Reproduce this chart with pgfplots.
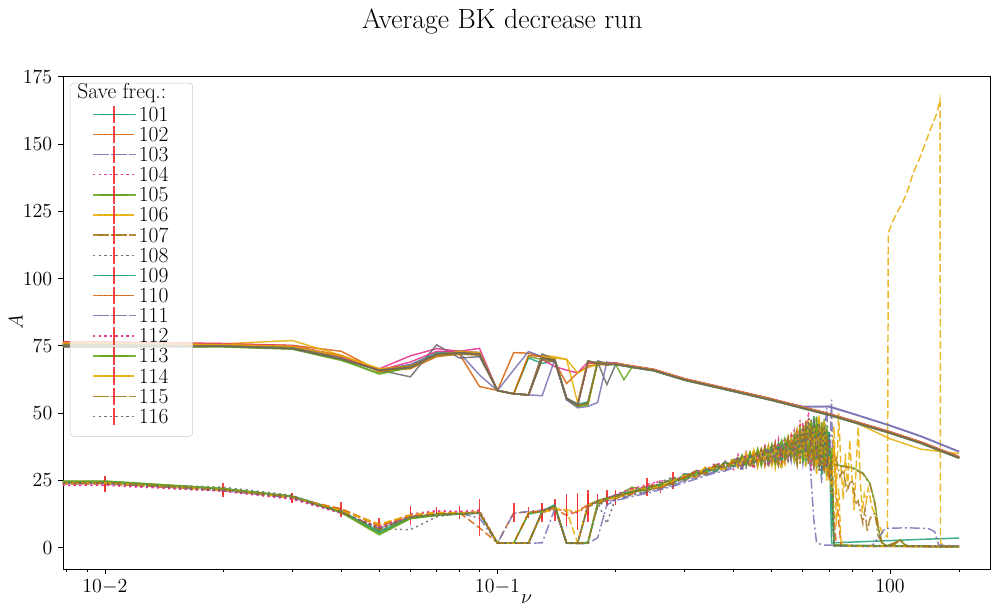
\documentclass[border=0pt,12pt]{standalone}
\usepackage{pgfplots}
\usepackage{pgfplotstable}
\pgfplotsset{compat=1.18}

\definecolor{d1}{HTML}{1B9E77}
\definecolor{d2}{HTML}{D95F02}
\definecolor{d3}{HTML}{7570B3}
\definecolor{d4}{HTML}{E7298A}
\definecolor{d5}{HTML}{66A61E}
\definecolor{d6}{HTML}{E6AB02}
\definecolor{d7}{HTML}{A6761D}
\definecolor{d8}{HTML}{666666}
\definecolor{errred}{HTML}{F03030}

\pgfplotsset{
  base/.style={line width=1.05pt, draw opacity=0.85},
  pS/.style={solid},
  pD/.style={dash pattern=on 5.5pt off 2.4pt},
  pDD/.style={dash pattern=on 7pt off 2.2pt on 1.5pt off 2.2pt},
  pO/.style={dash pattern=on 1.5pt off 2.5pt},
  ser1/.style={base,d1,pS}, ser2/.style={base,d2,pD}, ser3/.style={base,d3,pDD}, ser4/.style={base,d4,pO},
  ser5/.style={base,d5,pS}, ser6/.style={base,d6,pD}, ser7/.style={base,d7,pDD}, ser8/.style={base,d8,pO},
  ser9/.style={base,d1,pS}, ser10/.style={base,d2,pD}, ser11/.style={base,d3,pDD}, ser12/.style={base,d4,pO},
  ser13/.style={base,d5,pS}, ser14/.style={base,d6,pD}, ser15/.style={base,d7,pDD}, ser16/.style={base,d8,pO},
  errs/.style={error bars/.cd, y dir=both, y explicit, error mark=none,
     error bar style={errred, line width=1.2pt, solid, draw opacity=0.9}},
}

% upper branch
\pgfplotstableread{
nu u1 u2 u3 u4 u5 u6 u7 u8 u9 u10 u11 u12 u13 u14 u15 u16
1e-6 76.0 77.0 76.5 78.7 75.5 77.5 76.0 75.0 76.5 77.0 76.0 78.0 75.5 77.0 75.8 75.2
0.01 75.5 76.2 75.8 76.5 74.8 76.3 75.4 74.6 75.7 76.0 75.3 76.4 74.9 76.1 75.2 74.7
0.02 75.2 75.8 75.3 75.9 74.6 75.8 75.1 74.8 75.4 75.6 75.0 75.7 74.7 75.5 75.0 74.9
0.03 74.4 75.2 74.6 75.0 73.8 77.0 74.3 74.0 74.7 75.0 74.2 75.1 73.9 74.9 74.2 74.0
0.04 70.2 73.0 70.6 71.2 69.6 71.5 70.3 70.0 70.8 71.4 70.4 71.0 69.8 71.2 70.3 70.1
0.05 66.0 65.7 66.0 66.5 65.0 66.5 66.0 66.0 66.0 65.5 66.0 66.0 64.5 66.5 66.0 66.0
0.06 67.5 66.5 68.0 71.3 67.0 67.0 67.5 63.5 68.0 67.5 68.0 69.0 67.0 67.5 67.5 67.0
0.07 72.0 71.0 71.5 74.0 71.5 71.7 71.7 75.4 72.5 72.0 72.0 73.0 72.0 71.5 71.5 72.0
0.08 72.5 72.0 72.5 73.0 72.0 72.5 72.0 70.5 73.0 72.5 72.5 73.0 72.5 73.0 72.0 72.5
0.09 72.0 59.9 64.2 74.1 72.5 72.0 71.5 71.0 72.5 72.0 72.0 72.5 72.0 72.5 72.0 72.0
0.10 58.4 58.5 58.4 58.4 58.4 58.4 58.4 58.4 58.4 58.4 58.4 58.4 58.4 58.4 58.4 58.4
0.11 57.2 72.5 66.1 57.2 57.2 57.2 57.2 57.2 57.2 57.2 57.2 57.2 57.2 57.2 57.2 57.2
0.12 70.5 72.3 72.9 56.8 71.0 56.8 56.8 56.8 56.8 71.5 56.8 56.8 56.8 56.8 56.8 56.8
0.13 68.5 71.0 71.0 70.0 70.0 71.5 70.0 72.0 70.5 71.0 56.5 71.0 70.5 71.0 70.5 70.5
0.14 69.5 69.0 69.5 67.3 69.5 71.0 69.0 70.0 70.0 69.5 70.0 69.5 70.0 70.5 70.0 69.5
0.15 55.5 61.0 55.0 66.0 55.5 70.0 55.5 55.0 55.5 55.5 55.0 55.5 55.5 70.0 55.5 55.5
0.16 53.0 65.0 52.5 65.0 53.0 65.0 53.0 53.0 53.5 53.0 52.0 53.0 52.5 54.0 53.0 53.0
0.17 69.0 67.5 54.3 69.0 69.0 67.0 53.5 69.0 54.0 68.5 52.5 69.0 53.0 69.5 53.5 69.5
0.18 68.5 68.0 69.5 68.5 68.0 68.0 69.0 69.0 69.0 68.5 54.0 68.5 69.0 68.5 69.0 68.5
0.19 68.0 68.0 68.5 68.0 68.5 68.5 68.5 60.6 68.5 68.0 69.0 68.5 68.0 68.0 68.5 68.0
0.20 68.3 68.5 68.1 68.6 68.2 68.4 68.3 68.0 68.4 68.5 68.2 68.7 68.1 68.5 68.3 68.2
0.21 67.8 67.9 67.6 68.0 62.4 67.9 67.8 67.5 67.9 68.0 67.7 68.1 67.6 68.0 67.8 67.7
0.22 67.3 67.4 67.1 67.5 67.0 67.4 67.3 67.0 67.4 67.5 67.2 67.6 67.1 67.5 67.3 67.2
0.25 66.0 66.2 65.8 66.3 65.9 66.1 66.0 65.7 66.1 66.2 65.9 66.3 65.8 66.2 66.0 65.9
0.30 62.5 62.7 62.3 62.8 62.4 62.6 62.5 62.2 62.6 62.7 62.4 62.8 62.3 62.7 62.5 62.4
0.40 58.3 58.5 58.1 58.6 58.2 58.4 58.3 58.0 58.4 58.5 58.2 58.6 58.1 58.5 58.3 58.2
0.50 55.0 55.2 54.9 55.3 54.9 55.1 55.0 54.7 55.1 55.2 54.9 55.3 54.8 55.2 55.0 54.9
0.60 52.0 52.2 52.3 52.3 51.9 52.1 52.0 51.7 52.1 52.2 52.5 52.3 51.8 52.2 52.0 51.9
0.70 49.5 49.7 52.3 49.8 49.4 49.6 49.5 49.2 49.6 49.7 52.6 49.8 49.3 49.7 49.5 49.4
0.80 47.0 47.2 49.8 47.3 46.9 47.1 47.0 46.7 47.1 47.2 50.0 47.3 46.8 47.2 47.0 46.9
1.00 42.8 43.0 45.3 43.1 42.7 40.5 42.8 42.5 42.9 43.0 45.5 43.1 42.6 43.0 42.8 42.7
1.20 39.0 39.2 41.3 39.3 38.9 36.6 39.0 38.7 39.1 39.2 41.5 39.3 38.8 39.2 39.0 38.9
1.50 33.5 33.7 35.6 33.8 33.4 35.0 33.5 33.2 33.6 33.7 35.8 33.8 33.3 33.7 33.5 33.4
}\uptab

% lower branch (with error columns for three series)
\pgfplotstableread{
nu s1 s2 s3 s4 s5 s6 s7 s8 s9 s10 s11 s12 s13 s14 s15 s16 e2 e4 e6
1e-6 24.5 23.5 24.0 22.8 24.8 24.2 24.5 23.8 24.6 23.6 23.9 23.0 24.7 24.1 24.4 23.7 0 0 0
0.01 24.5 23.8 24.0 23.2 24.8 24.2 24.4 24.0 24.6 23.7 24.0 23.3 24.7 24.1 24.3 23.9 3 2 1.5
0.02 21.8 21.5 21.2 21.0 22.0 21.6 21.7 22.5 21.9 21.4 21.3 21.1 22.0 21.5 21.6 21.4 2.5 1.5 1
0.03 19.2 18.5 18.6 18.0 19.0 18.8 19.0 19.5 19.0 18.6 18.5 18.2 19.1 18.7 18.9 18.7 2 1 1.5
0.04 13.8 14.5 13.2 12.8 13.0 14.0 13.5 13.0 13.6 14.2 13.3 13.0 13.2 13.9 13.4 13.1 2.5 1.5 1
0.05 5.5 8.5 7.0 7.8 4.8 8.8 6.5 7.0 6.0 8.0 7.2 7.5 5.2 8.6 6.8 7.2 2.5 1.5 1
0.06 11.0 12.0 11.5 12.5 10.8 12.2 11.5 6.7 11.2 11.8 11.6 12.0 10.9 12.1 11.4 11.2 3.5 2 1.5
0.07 12.0 12.8 12.5 13.8 12.0 13.2 12.5 11.5 12.4 12.6 12.4 13.5 12.2 13.0 12.5 12.3 1.5 1.5 1
0.08 12.5 13.0 12.8 13.5 12.5 13.0 12.5 12.8 12.6 12.8 12.7 13.3 12.6 13.0 12.6 12.7 2.5 2 1
0.09 12.8 7.4 11.0 14.0 13.0 13.2 13.0 13.2 12.9 13.0 12.9 13.6 13.1 13.3 13.0 13.0 3 4 1.5
0.10 1.7 1.8 1.7 1.7 1.7 1.7 1.7 1.7 1.7 1.7 1.7 1.7 1.7 1.7 1.7 1.7 0 0 0
0.11 1.7 13.0 12.8 1.7 1.7 1.7 1.7 1.7 1.7 1.7 1.7 1.7 1.7 1.7 1.7 1.7 3.5 0 0
0.12 12.5 13.2 13.5 1.8 12.8 1.7 1.7 1.7 1.7 13.0 1.7 1.7 1.7 1.7 1.7 1.7 2 0 0
0.13 13.5 13.8 14.0 13.0 13.5 13.2 13.5 13.8 13.4 13.6 1.8 13.2 13.5 13.3 13.4 13.6 3 3.5 2.5
0.14 16.0 14.5 15.5 14.5 15.5 14.0 15.0 15.5 15.8 15.0 14.5 15.0 15.4 14.8 15.2 15.6 2.5 3 4
0.15 1.8 12.0 1.7 13.5 1.8 14.0 1.8 1.6 1.7 1.8 1.7 1.7 1.8 14.0 1.7 1.7 4 5 6
0.16 1.7 13.5 1.6 13.0 1.7 13.5 1.7 1.7 1.8 1.7 1.5 1.7 1.7 1.8 1.7 1.8 7 5.5 6.5
0.17 15.5 16.0 1.7 15.5 16.0 15.0 1.8 15.0 2.0 15.8 1.6 15.5 1.8 15.8 2.0 15.5 4 6 3
0.18 17.5 17.0 15.5 17.0 17.5 17.0 16.0 17.0 16.5 17.2 3.7 17.0 16.5 17.1 16.2 17.3 3 2.5 0
0.19 18.5 18.0 17.5 18.5 18.5 18.0 18.0 9.0 18.2 18.3 16.0 18.4 18.3 18.2 18.1 18.4 2 3 0
0.20 19.0 18.2 17.5 19.6 18.8 18.5 19.3 18.7 19.4 18.9 17.5 19.8 19.0 18.6 19.2 19.5 2.5 2 2.5
0.22 20.5 21.2 19.8 21.8 22.5 20.0 20.8 19.5 21.0 20.3 19.0 22.0 20.6 21.4 20.1 20.9 1.5 0 0
0.24 22.0 21.2 20.8 23.5 21.5 22.8 21.9 20.6 22.4 23.1 20.2 22.6 21.4 22.1 23.0 21.7 2 0 3
0.26 23.5 22.4 22.0 24.8 22.9 23.6 22.5 24.4 23.2 22.1 21.6 25.0 23.8 22.7 23.3 24.1 2 0 0
0.28 25.8 24.0 23.2 23.9 24.6 25.5 24.1 26.3 23.7 25.0 22.8 24.4 25.2 24.8 23.6 25.4 0 2 2.5
0.30 25.5 27.2 25.0 27.8 26.4 25.8 26.9 24.6 27.5 26.0 24.2 26.7 25.3 27.0 26.2 25.1 0 0 0
0.32 28.0 26.5 26.2 26.0 28.6 27.4 25.9 28.9 26.8 28.2 25.5 28.4 27.7 26.3 28.0 27.1 0 0 0
0.34 27.6 29.5 27.2 30.1 28.2 29.8 28.7 27.0 29.3 27.9 26.8 29.0 28.5 30.3 27.4 28.8 0 0 0
0.36 30.2 28.6 28.4 28.0 31.0 29.0 30.5 31.2 28.3 30.7 27.9 31.5 29.6 28.8 30.0 29.1 0 0 0
0.38 29.4 31.5 29.0 32.3 29.8 31.9 28.6 30.0 31.8 29.2 28.5 30.6 31.4 29.5 30.9 32.0 0 0 0
0.40 32.5 30.2 30.6 29.0 32.8 30.5 32.0 33.5 30.1 32.4 29.8 31.0 30.4 33.2 31.6 30.0 0 0 0
0.41 30.5 33.4 31.8 34.6 30.2 32.9 29.7 31.5 33.0 30.4 31.2 33.9 32.1 29.8 32.7 34.0 0 0 0
0.42 33.8 30.9 29.5 31.2 34.0 30.8 33.5 28.4 31.7 34.3 29.6 30.5 34.4 32.6 30.0 31.4 0 0 0
0.43 31.0 34.6 32.7 35.5 31.4 33.8 30.2 34.9 30.5 32.0 33.3 35.0 30.7 35.2 33.1 29.6 0 0 0
0.44 34.5 31.8 30.9 30.4 35.6 31.2 35.1 31.0 34.2 30.6 31.0 32.2 35.3 31.5 29.7 34.8 0 0 0
0.45 32.0 35.7 33.8 36.2 30.9 36.5 29.4 33.7 31.6 35.4 34.2 29.2 32.0 36.4 33.6 31.3 0 0 0
0.46 35.6 32.3 30.7 31.5 36.8 29.9 34.8 36.0 35.3 31.1 30.6 34.9 36.3 30.2 35.9 33.0 0 0 0
0.47 31.5 36.9 35.0 34.2 32.5 34.6 31.0 30.8 32.2 36.8 35.5 31.6 30.4 36.1 31.8 36.2 0 0 0
0.48 36.7 30.2 32.4 37.8 35.2 37.2 36.5 35.1 37.0 32.5 32.0 37.5 35.8 31.4 37.3 30.9 0 0 0
0.49 32.8 35.5 36.6 30.9 37.5 31.0 29.8 38.1 31.3 35.9 37.2 30.4 33.7 38.0 32.6 35.4 0 0 0
0.50 37.9 33.1 31.2 36.0 31.8 36.3 37.9 32.0 36.4 30.6 31.5 36.8 38.4 30.5 35.0 37.7 0 0 0
0.51 33.0 38.2 37.0 39.5 35.9 29.5 33.6 37.2 33.9 38.3 36.8 33.2 31.0 36.9 38.8 31.5 0 0 0
0.52 38.5 31.6 34.8 32.5 38.8 39.0 30.4 32.8 38.9 33.4 31.2 40.2 36.5 33.3 30.8 37.9 0 0 0
0.53 31.8 37.5 39.2 37.2 32.3 33.6 38.6 39.9 31.0 37.8 38.5 32.0 40.0 29.0 36.5 33.7 0 0 0
0.54 39.6 35.0 32.6 41.0 37.5 30.8 35.2 34.3 40.3 32.2 33.4 38.6 33.2 39.5 33.1 39.4 0 0 0
0.55 34.2 40.5 37.9 33.8 41.2 38.4 31.8 40.1 35.5 40.6 37.6 34.3 38.9 33.6 40.7 32.4 0 0 0
0.56 40.8 32.4 41.0 39.7 33.5 42.0 39.9 33.8 38.2 34.0 32.1 41.5 34.5 40.9 35.4 38.6 0 0 0
0.57 33.5 39.0 34.7 43.6 39.4 34.1 35.8 41.7 32.4 41.2 40.4 35.3 42.1 31.7 41.3 34.6 0 0 0
0.58 41.7 44.5 31.9 36.2 42.8 40.5 30.5 35.5 42.9 33.3 34.9 43.0 33.0 44.6 32.2 42.3 0 0 0
0.59 35.0 33.8 42.6 47.5 34.6 31.2 41.6 42.8 35.6 44.8 42.5 34.0 44.9 34.8 43.0 31.5 0 0 0
0.60 43.8 38.9 33.4 33.0 44.5 45.2 33.7 32.6 41.5 35.0 31.2 46.5 31.5 42.2 36.7 45.0 0 0 0
0.61 32.6 45.0 46.8 40.0 36.5 30.0 42.5 45.0 30.8 47.2 40.0 33.5 45.7 30.5 44.0 33.9 0 0 0
0.62 45.5 31.0 35.2 50.5 43.0 46.8 31.4 35.3 46.3 33.6 37.5 44.5 34.6 47.9 31.6 48.2 0 0 0
0.63 34.0 47.3 43.5 28.0 30.9 35.9 44.6 47.7 33.4 40.6 25.0 30.2 47.2 33.4 45.2 35.0 0 0 0
0.64 47.5 36.5 28.5 42.6 46.4 48.8 33.2 30.4 48.9 30.0 10.0 47.8 30.5 45.0 29.4 47.0 0 0 0
0.65 30.2 48.6 45.6 35.5 32.2 27.5 47.8 46.6 29.5 45.5 2.0 31.4 48.8 27.6 42.8 33.0 0 0 0
0.66 44.0 33.0 35.9 46.0 47.6 49.5 28.9 28.6 45.8 32.4 1.5 46.2 33.0 48.3 30.5 46.1 0 0 0
0.67 32.5 45.6 24.0 30.0 30.5 30.4 43.0 44.0 27.0 46.8 1.2 29.0 46.5 30.0 44.5 28.8 0 0 0
0.68 46.8 28.7 40.5 42.5 48.0 47.0 32.0 30.0 44.2 29.0 1.0 43.6 31.0 46.5 27.2 45.4 0 0 0
0.69 29.0 44.0 52.0 27.5 31.0 26.0 40.5 42.2 26.5 44.1 1.0 28.0 45.5 25.0 42.0 30.0 0 0 0
0.70 43.0 25.0 30.0 40.0 32.0 38.0 30.0 27.0 40.0 26.0 1.0 40.0 30.0 34.0 29.0 42.0 0 0 0
}\lowtab

\begin{document}
\begin{tikzpicture}
\useasboundingbox (-45.36pt,-26.64pt) rectangle (669.6pt,409.68pt);
\begin{axis}[
  at={(0,0)}, anchor=south west,
  scale only axis, width=667.44pt, height=354.96pt,
  xmode=log, xmin=0.00782, xmax=1.798, ymin=-7.9, ymax=175.3,
  xtick={0.01,0.1,1}, xticklabels={$10{-}2$,$10{-}1$,$100$},
  minor xtick={0.008,0.009,0.02,0.03,0.04,0.05,0.06,0.07,0.08,0.09,0.2,0.3,0.4,0.5,0.6,0.7,0.8,0.9,1.5},
  ytick={0,25,50,75,100,125,150,175},
  tick align=outside, tick pos=left,
  major tick length=3.5pt, minor tick length=2pt,
  every tick/.style={black, line width=0.6pt},
  axis line style={line width=0.6pt},
  tick label style={font=\fontsize{15.5}{18}\selectfont},
  label style={font=\fontsize{15.5}{18}\selectfont},
  xlabel={$\nu$}, ylabel={$A$},
  xlabel style={yshift=8pt},
  ylabel style={yshift=-8pt},
  title={Average BK decrease run},
  title style={at={(0.474,1)}, anchor=base, yshift=28pt, font=\fontsize{20}{24}\selectfont},
  clip=true,
  legend image code/.code={%
    \path (-4.2pt,0pt) -- (26.6pt,0pt);
    \draw[#1] (0pt,0pt) -- (21.6pt,0pt);
    \draw[overlay, errred, line width=1.2pt, solid, draw opacity=0.9] (10.8pt,-6.3pt) -- (10.8pt,6.3pt);
  },
  legend style={
    at={(0,1)}, anchor=north west, xshift=5pt, yshift=-5pt,
    draw=black!20, fill=white, fill opacity=0.8, draw opacity=1, text opacity=1,
    rounded corners=2.5pt, font=\fontsize{15.5}{18}\selectfont,
    row sep=1.5pt, inner xsep=16pt, inner ysep=7.9pt,
    nodes={inner sep=1.5pt, text height=10pt, text depth=0pt},
  },
  legend cell align=left,
]
\addlegendimage{empty legend}
\addlegendentry[text height=3.5pt]{}

% lower branch
\addplot[ser1] table[x=nu,y=s1]{\lowtab}; \addlegendentry{101}
\addplot[ser2,errs] table[x=nu,y=s2,y error=e2]{\lowtab}; \addlegendentry{102}
\addplot[ser3] table[x=nu,y=s3]{\lowtab}; \addlegendentry{103}
\addplot[ser4,errs] table[x=nu,y=s4,y error=e4]{\lowtab}; \addlegendentry{104}
\addplot[ser5] table[x=nu,y=s5]{\lowtab}; \addlegendentry{105}
\addplot[ser6,errs] table[x=nu,y=s6,y error=e6]{\lowtab}; \addlegendentry{106}
\addplot[ser7] table[x=nu,y=s7]{\lowtab}; \addlegendentry{107}
\addplot[ser8] table[x=nu,y=s8]{\lowtab}; \addlegendentry{108}
\addplot[ser9] table[x=nu,y=s9]{\lowtab}; \addlegendentry{109}
\addplot[ser10] table[x=nu,y=s10]{\lowtab}; \addlegendentry{110}
\addplot[ser11] table[x=nu,y=s11]{\lowtab}; \addlegendentry{111}
\addplot[ser12] table[x=nu,y=s12]{\lowtab}; \addlegendentry{112}
\addplot[ser13] table[x=nu,y=s13]{\lowtab}; \addlegendentry{113}
\addplot[ser14] table[x=nu,y=s14]{\lowtab}; \addlegendentry{114}
\addplot[ser15] table[x=nu,y=s15]{\lowtab}; \addlegendentry{115}
\addplot[ser16] table[x=nu,y=s16]{\lowtab}; \addlegendentry{116}

% lower branch tails
\addplot[ser1,forget plot] coordinates {(0.70,43.0) (0.71,1.8) (0.9,2.4) (1.2,3.1) (1.5,3.6)};
\addplot[ser2,forget plot] coordinates {(0.70,25.0) (0.71,30) (0.72,38) (0.73,20) (0.74,10) (0.75,1.0) (0.8,0.6) (1.0,0.5) (1.5,0.4)};
\addplot[ser3,forget plot] coordinates {(0.70,30.0) (0.71,55) (0.72,1.0) (0.8,0.5) (1.0,0.5) (1.5,0.4)};
\addplot[ser4,forget plot] coordinates {(0.70,40.0) (0.71,22) (0.72,0.8) (0.85,0.5) (1.5,0.4)};
\addplot[ser5,forget plot] coordinates {(0.70,32.0) (0.71,33) (0.72,31) (0.733,30.8) (0.77,30.3) (0.805,29.7) (0.853,27.8) (0.889,24) (0.916,16.7) (0.932,7.8) (0.954,1.9) (0.98,0.8) (1.03,1.5) (1.06,3) (1.09,1.2) (1.12,0.5) (1.5,0.4)};
\addplot[ser6,forget plot] coordinates {(0.70,38.0) (0.71,28) (0.72,45) (0.73,20) (0.74,50) (0.75,30) (0.76,18) (0.77,35) (0.78,22) (0.79,40) (0.80,26) (0.81,14) (0.82,30) (0.83,45) (0.84,25) (0.85,13) (0.86,20) (0.87,17) (0.88,22) (0.90,15) (0.92,12) (0.94,8) (0.96,5) (0.985,4) (0.99,117) (1.005,119.5) (1.018,121.5) (1.033,123.5) (1.048,125.2) (1.079,128.5) (1.111,133) (1.144,139) (1.192,145) (1.228,150) (1.264,155) (1.317,161.5) (1.341,166.5) (1.345,1.5) (1.4,0.6) (1.5,0.5)};
\addplot[ser7,forget plot] coordinates {(0.70,30.0) (0.71,28) (0.73,33) (0.746,26.3) (0.76,29) (0.777,20.8) (0.79,24) (0.805,25) (0.815,16) (0.829,17.5) (0.853,9) (0.864,14.6) (0.874,6) (0.89,11) (0.916,12.9) (0.932,4.5) (0.954,1.8) (0.98,0.6) (1.06,2.8) (1.1,0.6) (1.5,0.4)};
\addplot[ser8,forget plot] coordinates {(0.70,27.0) (0.71,35) (0.72,1.0) (0.9,0.6) (1.5,0.5)};
\addplot[ser9,forget plot] coordinates {(0.70,40.0) (0.71,18) (0.72,0.7) (1.5,0.4)};
\addplot[ser10,forget plot] coordinates {(0.70,26.0) (0.71,32) (0.72,12) (0.73,0.8) (1.5,0.5)};
\addplot[ser11,forget plot] coordinates {(0.70,1.0) (0.8,0.6) (0.9,0.8) (0.95,5) (0.97,7.2) (1.1,7.4) (1.25,7.2) (1.3,6) (1.33,1.0) (1.5,0.6)};
\addplot[ser12,forget plot] coordinates {(0.70,40.0) (0.71,29) (0.72,0.9) (1.5,0.5)};
\addplot[ser13,forget plot] coordinates {(0.70,30.0) (0.71,37) (0.72,1.0) (1.5,0.4)};
\addplot[ser14,forget plot] coordinates {(0.70,34.0) (0.71,20) (0.72,40) (0.73,8) (0.74,22) (0.75,3) (0.76,1) (0.8,0.5) (1.5,0.4)};
\addplot[ser15,forget plot] coordinates {(0.70,29.0) (0.71,32) (0.72,31.2) (0.733,30.6) (0.77,30.0) (0.805,29.4) (0.853,27.5) (0.889,23.5) (0.916,16) (0.932,7.5) (0.954,1.8) (0.98,0.7) (1.03,1.4) (1.06,2.9) (1.09,1.1) (1.12,0.5) (1.5,0.4)};
\addplot[ser16,forget plot] coordinates {(0.70,42.0) (0.71,24) (0.72,0.8) (1.5,0.5)};

% upper branch (solid)
\addplot[base,d1,forget plot] table[x=nu,y=u1]{\uptab};
\addplot[base,d2,forget plot] table[x=nu,y=u2]{\uptab};
\addplot[base,d3,forget plot] table[x=nu,y=u3]{\uptab};
\addplot[base,d4,forget plot] table[x=nu,y=u4]{\uptab};
\addplot[base,d5,forget plot] table[x=nu,y=u5]{\uptab};
\addplot[base,d6,forget plot] table[x=nu,y=u6]{\uptab};
\addplot[base,d7,forget plot] table[x=nu,y=u7]{\uptab};
\addplot[base,d8,forget plot] table[x=nu,y=u8]{\uptab};
\addplot[base,d1,forget plot] table[x=nu,y=u9]{\uptab};
\addplot[base,d2,forget plot] table[x=nu,y=u10]{\uptab};
\addplot[base,d3,forget plot] table[x=nu,y=u11]{\uptab};
\addplot[base,d4,forget plot] table[x=nu,y=u12]{\uptab};
\addplot[base,d5,forget plot] table[x=nu,y=u13]{\uptab};
\addplot[base,d6,forget plot] table[x=nu,y=u14]{\uptab};
\addplot[base,d7,forget plot] table[x=nu,y=u15]{\uptab};
\addplot[base,d8,forget plot] table[x=nu,y=u16]{\uptab};
\end{axis}
\node[anchor=base west, inner sep=0pt, font=\fontsize{15.5}{18}\selectfont] at (10.1pt,338.76pt) {Save freq.:};
\end{tikzpicture}
\end{document}
